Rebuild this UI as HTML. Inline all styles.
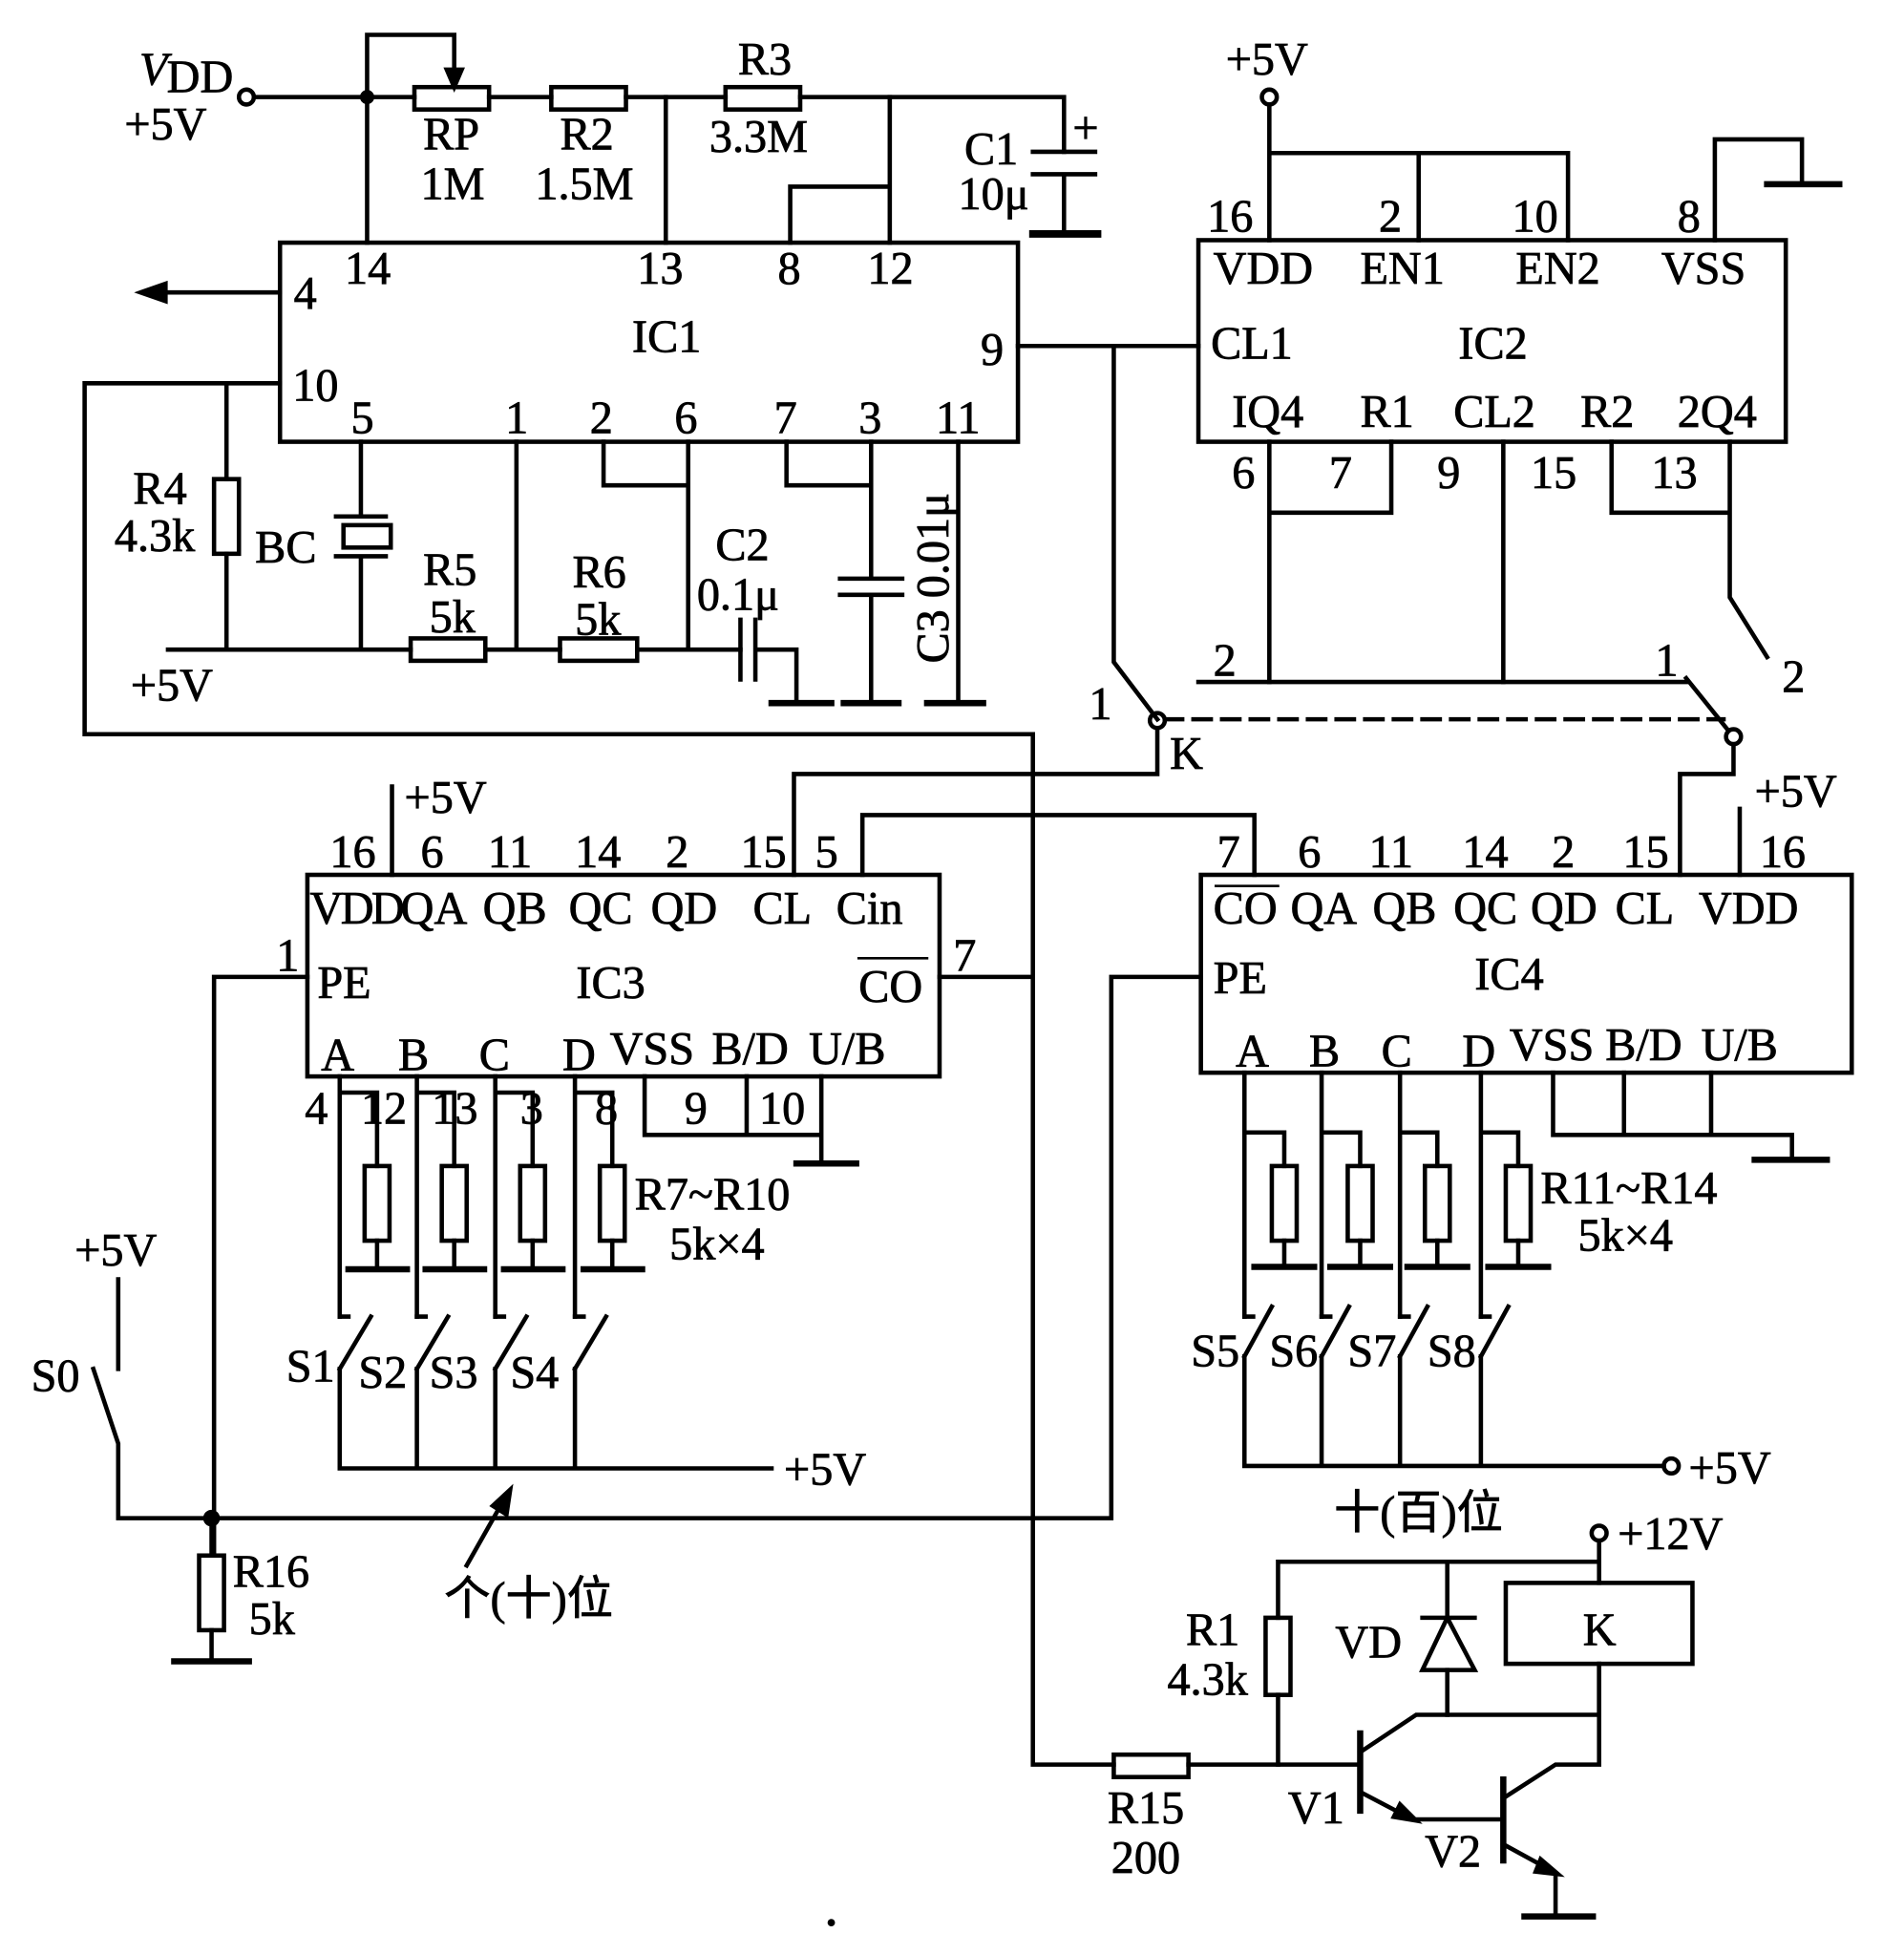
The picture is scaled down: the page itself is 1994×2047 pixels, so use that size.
<!DOCTYPE html>
<html><head><meta charset="utf-8"><style>
html,body{margin:0;padding:0;background:#fff}
svg{display:block}
text{font-family:"Liberation Serif","Noto Serif CJK SC",serif;font-size:37px;fill:#000;stroke:#000;stroke-width:0.6px}
.c{font-family:"Liberation Serif","Noto Sans CJK SC",serif}
</style></head><body>
<svg width="1994" height="2047" viewBox="0 0 1530 1571" preserveAspectRatio="none" xmlns="http://www.w3.org/2000/svg">
<g stroke="#000" stroke-width="3.5" fill="none" stroke-linecap="square">
<circle cx="198" cy="78" r="6"/>
<path d="M204 78H333M393 78H443M503 78H583M643 78H855V122"/>
<path d="M295 78V28H365V62"/>
<path d="M365 70l-6-14h12z" fill="#000"/>
<rect x="333" y="70" width="60" height="18"/>
<rect x="443" y="70" width="60" height="18"/>
<rect x="583" y="70" width="60" height="18"/>
<path d="M830 122H880M830 140H880M855 140V188" />
<path d="M830 188H882" stroke-width="6"/>
<path d="M535 78V195M715 78V195M635 195V150H715M295 78V195"/>
<circle cx="295" cy="78" r="4" fill="#000"/>
<rect x="225" y="195" width="593" height="160"/>
<path d="M225 235H125"/>
<path d="M113 235l20-7v14z" fill="#000"/>
<path d="M818 278H963M895 278V532L930 578"/>
<path d="M225 308H68V590H830V1418H895M955 1418H1093"/>
<rect x="895" y="1410" width="60" height="18"/>
<path d="M182 308V385M182 445V522"/>
<rect x="172" y="385" width="20" height="60"/>
<path d="M290 355V415M270 415H310M270 447H310M290 447V522"/>
<rect x="276" y="422" width="38" height="18"/>
<path d="M135 522H330M390 522H450M512 522H595"/>
<rect x="330" y="513" width="60" height="18"/>
<rect x="450" y="513" width="62" height="18"/>
<path d="M415 355V522M485 355V390H550M553 355V522"/>
<path d="M595 498V546M607 498V546M607 522H640V565"/>
<path d="M632 355V390H700M700 355V465M675 465H725M675 478H725M700 478V565M770 355V565"/>
<path d="M620 565H668M678 565H722M745 565H790" stroke-width="5"/>
<rect x="963" y="193" width="472" height="162"/>
<circle cx="1020" cy="78" r="6"/>
<path d="M1020 84V193M1020 123H1260V193M1140 123V193"/>
<path d="M1378 193V112H1448V148"/>
<path d="M1420 148H1478" stroke-width="5"/>
<path d="M1020 355V548M1020 412H1118V355M1208 355V548M1295 355V412H1390M1390 355V480L1420 528"/>
<path d="M963 548H1355M1355 545L1388 586"/>
<circle cx="930" cy="579" r="6"/>
<circle cx="1393" cy="592" r="6"/>
<path d="M936 578H1385" stroke-dasharray="14 9"/>
<path d="M930 585V622H638V703M1393 598V622H1350V703M693 703V655H1008V703"/>
<rect x="247" y="703" width="508" height="162"/>
<path d="M315 703V632M755 785H830M247 785H172V1250"/>
<path d="M518 865V912H660M600 865V912M660 865V935"/>
<path d="M640 935H688" stroke-width="5"/>
<path d="M273 865V1058M273 878H303V937M303 997V1020"/>
<path d="M335 865V1058M335 878H365V937M365 997V1020"/>
<path d="M398 865V1058M398 878H428V937M428 997V1020"/>
<path d="M462 865V1058M462 878H492V937M492 997V1020"/>
<rect x="293" y="937" width="20" height="60"/><rect x="355" y="937" width="20" height="60"/>
<rect x="418" y="937" width="20" height="60"/><rect x="482" y="937" width="20" height="60"/>
<path d="M280 1020H327M342 1020H389M405 1020H452M469 1020H516" stroke-width="5"/>
<path d="M273 1058H280M335 1058H342M398 1058H405M462 1058H469"/>
<path d="M298 1058L273 1100M360 1058L335 1100M423 1058L398 1100M487 1058L462 1100"/>
<path d="M273 1100V1180M335 1100V1180M398 1100V1180M462 1100V1180M273 1180H620"/>
<rect x="965" y="703" width="523" height="159"/>
<path d="M1398 703V650M965 785H893V1220H95V1160L75 1100M95 1100V1028"/>
<circle cx="170" cy="1220" r="5" fill="#000"/>
<path d="M1248 862V912H1440M1305 862V912M1375 862V912M1440 912V932"/>
<path d="M1410 932H1468" stroke-width="5"/>
<path d="M1000 862V1058M1000 910H1032V937M1032 997V1018"/>
<path d="M1062 862V1058M1062 910H1093V937M1093 997V1018"/>
<path d="M1125 862V1058M1125 910H1155V937M1155 997V1018"/>
<path d="M1190 862V1058M1190 910H1220V937M1220 997V1018"/>
<rect x="1022" y="937" width="20" height="60"/><rect x="1083" y="937" width="20" height="60"/>
<rect x="1145" y="937" width="20" height="60"/><rect x="1210" y="937" width="20" height="60"/>
<path d="M1008 1018H1056M1069 1018H1117M1131 1018H1179M1196 1018H1244" stroke-width="5"/>
<path d="M1000 1058H1007M1062 1058H1069M1125 1058H1132M1190 1058H1197"/>
<path d="M1022 1050L1000 1090M1084 1050L1062 1090M1147 1050L1125 1090M1212 1050L1190 1090"/>
<path d="M1000 1090V1178M1062 1090V1178M1125 1090V1178M1190 1090V1178M1000 1178H1337"/>
<circle cx="1343" cy="1178" r="6"/>
<path d="M170 1220V1250M170 1310V1335"/>
<rect x="160" y="1250" width="20" height="60"/>
<path d="M140 1335H200" stroke-width="5"/>
<path d="M375 1258L405 1205"/>
<path d="M410 1197l-3 20-11-7z" fill="#000"/>
<circle cx="1285" cy="1232" r="6"/>
<path d="M1285 1238V1272M1027 1255H1285M1027 1255V1300M1027 1362V1418"/>
<rect x="1017" y="1300" width="20" height="62"/>
<path d="M1163 1255V1300M1143 1300H1185M1163 1342V1378"/>
<path d="M1163 1300L1143 1342H1185Z"/>
<rect x="1210" y="1272" width="150" height="65"/>
<path d="M1285 1337V1418H1250L1208 1445"/>
<path d="M1093 1408L1138 1378H1285V1337"/>
<path d="M1093 1440L1135 1462H1208"/>
<path d="M1138 1463l-18-3 5-10z" fill="#000"/>
<path d="M1208 1482L1250 1505V1540"/>
<path d="M1252 1506l-18-2 4-10z" fill="#000"/>
<path d="M1225 1540H1280" stroke-width="5"/>
<path d="M1093 1393V1455" stroke-width="5"/><path d="M1208 1430V1495" stroke-width="5"/>
<path d="M690 770H745M977 712H1027" stroke-width="2"/>
</g>
<circle cx="668" cy="1545" r="3" fill="#000"/>
<g>
<text x="112" y="68" font-style="italic">V</text><text x="134" y="74" font-size="26">DD</text>
<text x="100" y="112">+5V</text>
<text x="340" y="120">RP</text><text x="338" y="160">1M</text>
<text x="450" y="120">R2</text><text x="430" y="160">1.5M</text>
<text x="593" y="60">R3</text><text x="570" y="122">3.3M</text>
<text x="775" y="132">C1</text><text x="770" y="168">10μ</text><text x="862" y="115">+</text>
<text x="277" y="228">14</text><text x="512" y="228">13</text><text x="625" y="228">8</text><text x="697" y="228">12</text>
<text x="236" y="248">4</text><text x="508" y="283">IC1</text><text x="788" y="293">9</text>
<text x="235" y="322">10</text><text x="282" y="348">5</text><text x="406" y="348">1</text><text x="474" y="348">2</text><text x="542" y="348">6</text><text x="622" y="348">7</text><text x="690" y="348">3</text><text x="752" y="348">11</text>
<text x="107" y="405">R4</text><text x="92" y="443">4.3k</text><text x="205" y="452">BC</text>
<text x="340" y="470">R5</text><text x="345" y="508">5k</text><text x="460" y="472">R6</text><text x="462" y="510">5k</text>
<text x="575" y="450">C2</text><text x="560" y="490">0.1μ</text>
<text transform="translate(762,533) rotate(-90)">C3 0.01μ</text>
<text x="105" y="563">+5V</text>
<text x="985" y="60">+5V</text>
<text x="970" y="186">16</text><text x="1108" y="186">2</text><text x="1215" y="186">10</text><text x="1348" y="186">8</text>
<text x="975" y="228">VDD</text><text x="1093" y="228">EN1</text><text x="1218" y="228">EN2</text><text x="1335" y="228">VSS</text>
<text x="973" y="288">CL1</text><text x="1172" y="288">IC2</text>
<text x="990" y="343">IQ4</text><text x="1093" y="343">R1</text><text x="1168" y="343">CL2</text><text x="1270" y="343">R2</text><text x="1348" y="343">2Q4</text>
<text x="990" y="392">6</text><text x="1068" y="392">7</text><text x="1155" y="392">9</text><text x="1230" y="392">15</text><text x="1327" y="392">13</text>
<text x="975" y="543">2</text><text x="1330" y="543">1</text><text x="1432" y="556">2</text>
<text x="875" y="578">1</text><text x="940" y="618">K</text>
<text x="325" y="653">+5V</text>
<text x="265" y="697">16</text><text x="338" y="697">6</text><text x="392" y="697">11</text><text x="462" y="697">14</text><text x="535" y="697">2</text><text x="595" y="697">15</text><text x="655" y="697">5</text>
<text x="249" y="742" font-size="33" letter-spacing="-2">VDD</text><text x="322" y="742" font-size="34">QA</text><text x="388" y="742" font-size="34">QB</text><text x="457" y="742" font-size="34">QC</text><text x="523" y="742" font-size="34">QD</text><text x="605" y="742" font-size="34">CL</text><text x="672" y="742" font-size="34">Cin</text>
<text x="222" y="780">1</text><text x="766" y="780">7</text>
<text x="255" y="802">PE</text><text x="463" y="802">IC3</text><text x="690" y="805">CO</text>
<text x="258" y="860" font-size="34">A</text><text x="320" y="860" font-size="34">B</text><text x="385" y="860" font-size="34">C</text><text x="452" y="860" font-size="34">D</text><text x="490" y="855" font-size="34">VSS</text><text x="572" y="855" font-size="34">B/D</text><text x="650" y="855" font-size="34">U/B</text>
<text x="245" y="903">4</text><text x="290" y="903">12</text><text x="347" y="903">13</text><text x="418" y="903">3</text><text x="478" y="903">8</text><text x="550" y="903">9</text><text x="610" y="903">10</text>
<text x="510" y="972">R7~R10</text><text x="538" y="1012">5k×4</text>
<text x="230" y="1110">S1</text><text x="288" y="1115">S2</text><text x="345" y="1115">S3</text><text x="410" y="1115">S4</text>
<text x="630" y="1193">+5V</text>
<text x="1410" y="648">+5V</text>
<text x="978" y="697">7</text><text x="1043" y="697">6</text><text x="1100" y="697">11</text><text x="1175" y="697">14</text><text x="1247" y="697">2</text><text x="1304" y="697">15</text><text x="1414" y="697">16</text>
<text x="975" y="742" font-size="34">CO</text><text x="1037" y="742" font-size="34">QA</text><text x="1103" y="742" font-size="34">QB</text><text x="1168" y="742" font-size="34">QC</text><text x="1230" y="742" font-size="34">QD</text><text x="1298" y="742" font-size="34">CL</text><text x="1365" y="742" font-size="34">VDD</text>
<text x="975" y="798">PE</text><text x="1185" y="795">IC4</text>
<text x="993" y="857" font-size="34">A</text><text x="1052" y="857" font-size="34">B</text><text x="1110" y="857" font-size="34">C</text><text x="1175" y="857" font-size="34">D</text><text x="1213" y="852" font-size="34">VSS</text><text x="1290" y="852" font-size="34">B/D</text><text x="1367" y="852" font-size="34">U/B</text>
<text x="1238" y="967">R11~R14</text><text x="1268" y="1005">5k×4</text>
<text x="957" y="1098">S5</text><text x="1020" y="1098">S6</text><text x="1083" y="1098">S7</text><text x="1147" y="1098">S8</text>
<text x="1357" y="1192">+5V</text>
<text class="c" x="1072" y="1228" font-size="36">十(百)位</text>
<text x="60" y="1017">+5V</text><text x="25" y="1118">S0</text>
<text x="187" y="1275">R16</text><text x="200" y="1313">5k</text>
<text class="c" x="357" y="1297" font-size="36">个(十)位</text>
<text x="1300" y="1245">+12V</text>
<text x="953" y="1322">R1</text><text x="938" y="1362">4.3k</text>
<text x="1073" y="1332">VD</text><text x="1272" y="1322">K</text>
<text x="1035" y="1465">V1</text><text x="1145" y="1500">V2</text>
<text x="890" y="1465">R15</text><text x="893" y="1505">200</text>
</g>
</svg>
</body></html>
